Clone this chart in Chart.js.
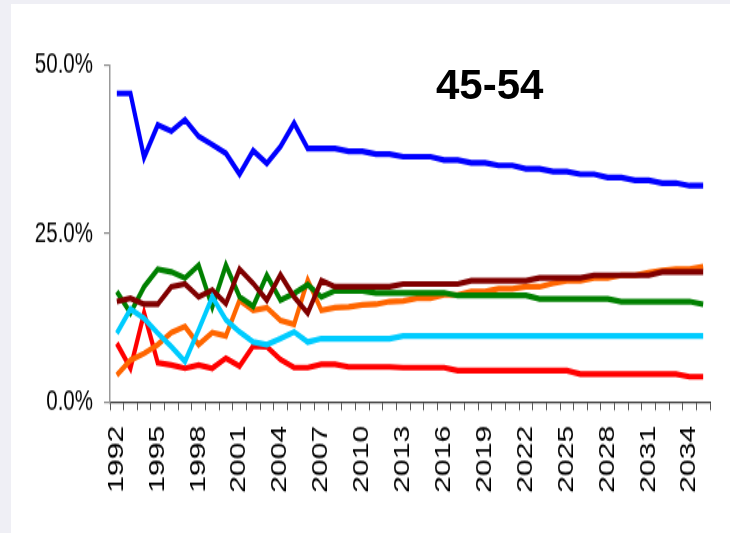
<!DOCTYPE html>
<html>
<head>
<meta charset="utf-8">
<script src="https://cdn.jsdelivr.net/npm/chart.js@4/dist/chart.umd.min.js"></script>
<style>
  html, body { margin: 0; padding: 0; }
  body { width: 730px; height: 533px; background: #efeff5; position: relative; overflow: hidden; }
  #panel { position: absolute; left: 11px; top: 4px; right: 0; bottom: 0; background: #ffffff; }
  #wrap { position: absolute; left: 0; top: 0; width: 730px; height: 381px;
          transform: scaleY(1.399); transform-origin: 0 0; }
  #chart { display: block; }
  #title { position: absolute; left: 436px; top: 64px; font: bold 42px "Liberation Sans", Arial, sans-serif;
           line-height: 42px; color: #000; white-space: nowrap; }
</style>
</head>
<body>
<div id="panel"></div>
<div id="wrap"><canvas id="chart" width="730" height="381"></canvas></div>
<div id="title">45-54</div>
<script>
const years = [];
for (let y = 1992; y <= 2035; y++) years.push(String(y));

const blueSeries = [45.8,45.8,36.3,41.1,40.2,41.9,39.4,38.2,36.9,33.8,
  37.3,35.4,37.9,41.4,37.6,37.6,37.6,37.2,37.2,36.8,
  36.8,36.4,36.4,36.4,35.9,35.9,35.5,35.5,35.1,35.1,
  34.6,34.6,34.2,34.2,33.8,33.8,33.3,33.3,32.9,32.9,
  32.5,32.5,32.1,32.1];
const greenSeries = [16.4,13.2,17.1,19.7,19.3,18.4,20.3,14.1,20.3,15.6,
  14.2,18.8,15.1,16.1,17.4,15.6,16.5,16.5,16.5,16.2,
  16.2,16.2,16.2,16.2,16.2,15.8,15.8,15.8,15.8,15.8,
  15.8,15.3,15.3,15.3,15.3,15.3,15.3,14.9,14.9,14.9,
  14.9,14.9,14.9,14.5];
const maroonSeries = [14.9,15.4,14.5,14.5,17.1,17.5,15.6,16.6,14.6,19.7,
  17.6,15.1,18.9,15.6,13.2,18.0,17.1,17.1,17.1,17.1,
  17.1,17.5,17.5,17.5,17.5,17.5,18.0,18.0,18.0,18.0,
  18.0,18.4,18.4,18.4,18.4,18.8,18.8,18.8,18.8,18.8,
  19.3,19.3,19.3,19.3];
const cyanSeries = [10.2,13.8,12.4,10.2,8.2,6.0,10.7,15.6,12.2,10.4,
  8.9,8.5,9.4,10.4,8.9,9.4,9.4,9.4,9.4,9.4,
  9.4,9.8,9.8,9.8,9.8,9.8,9.8,9.8,9.8,9.8,
  9.8,9.8,9.8,9.8,9.8,9.8,9.8,9.8,9.8,9.8,
  9.8,9.8,9.8,9.8];
const orangeSeries = [4.0,6.2,7.2,8.5,10.3,11.2,8.5,10.3,9.8,15.1,
  13.6,14.0,12.1,11.5,18.1,13.6,14.0,14.1,14.4,14.5,
  14.9,15.0,15.4,15.4,15.9,15.9,16.4,16.4,16.8,16.8,
  17.1,17.1,17.6,18.0,18.0,18.4,18.4,18.8,18.8,19.2,
  19.5,19.7,19.7,20.1];
const redSeries = [8.7,5.0,13.2,5.8,5.5,5.0,5.5,5.0,6.5,5.3,
  8.3,8.2,6.3,5.1,5.1,5.6,5.6,5.2,5.2,5.2,
  5.2,5.1,5.1,5.1,5.1,4.65,4.65,4.65,4.65,4.65,
  4.65,4.65,4.65,4.65,4.15,4.15,4.15,4.15,4.15,4.15,
  4.15,4.15,3.75,3.75];

const yTicks = [0, 25, 50];

function ds(data, color) {
  return { data: data, borderColor: color, backgroundColor: color, borderWidth: 4.2,
           pointRadius: 0, tension: 0, fill: false, borderCapStyle: 'butt', borderJoinStyle: 'miter' };
}

new Chart(document.getElementById('chart'), {
  type: 'line',
  data: {
    labels: years,
    datasets: [
      ds(blueSeries, '#0000ff'),
      ds(cyanSeries, '#00ccff'),
      ds(maroonSeries, '#800000'),
      ds(greenSeries, '#008000'),
      ds(orangeSeries, '#ff6600'),
      ds(redSeries, '#ff0000')
    ]
  },
  options: {
    responsive: false,
    animation: false,
    events: [],
    layout: { padding: { top: 46.5, right: 20, left: 0, bottom: 0 } },
    plugins: { legend: { display: false }, tooltip: { enabled: false }, title: { display: false } },
    scales: {
      x: {
        type: 'category',
        offset: true,
        grid: { offset: true, drawOnChartArea: false, drawTicks: true, tickLength: 6, color: '#555', lineWidth: 1 },
        border: { display: true, color: '#333', width: 1.2 },
        ticks: {
          autoSkip: false, minRotation: 90, maxRotation: 90, padding: 11,
          color: '#000', font: { family: '"Liberation Sans", Arial, sans-serif', size: 21.5 },
          callback: function (v, i) { return i % 3 === 0 ? years[i] : ''; }
        },
        afterFit: function (s) { s.height = 381 - 287.3; s.paddingLeft = 0; s.paddingRight = 0; }
      },
      y: {
        min: 0, max: 50,
        afterBuildTicks: function (s) { s.ticks = yTicks.map(v => ({ value: v })); },
        grid: { drawOnChartArea: false, drawTicks: true, tickLength: 6, color: '#888', lineWidth: 1.2 },
        border: { display: true, color: '#999', width: 1.5 },
        ticks: {
          padding: 11, color: '#000',
          font: { family: '"Liberation Sans", Arial, sans-serif', size: 20.5 },
          callback: function (v) { return v.toFixed(1) + '%'; }
        },
        afterFit: function (s) { s.width = 110; s.paddingTop = 0; s.paddingBottom = 0; }
      }
    }
  }
});
</script>
</body>
</html>
